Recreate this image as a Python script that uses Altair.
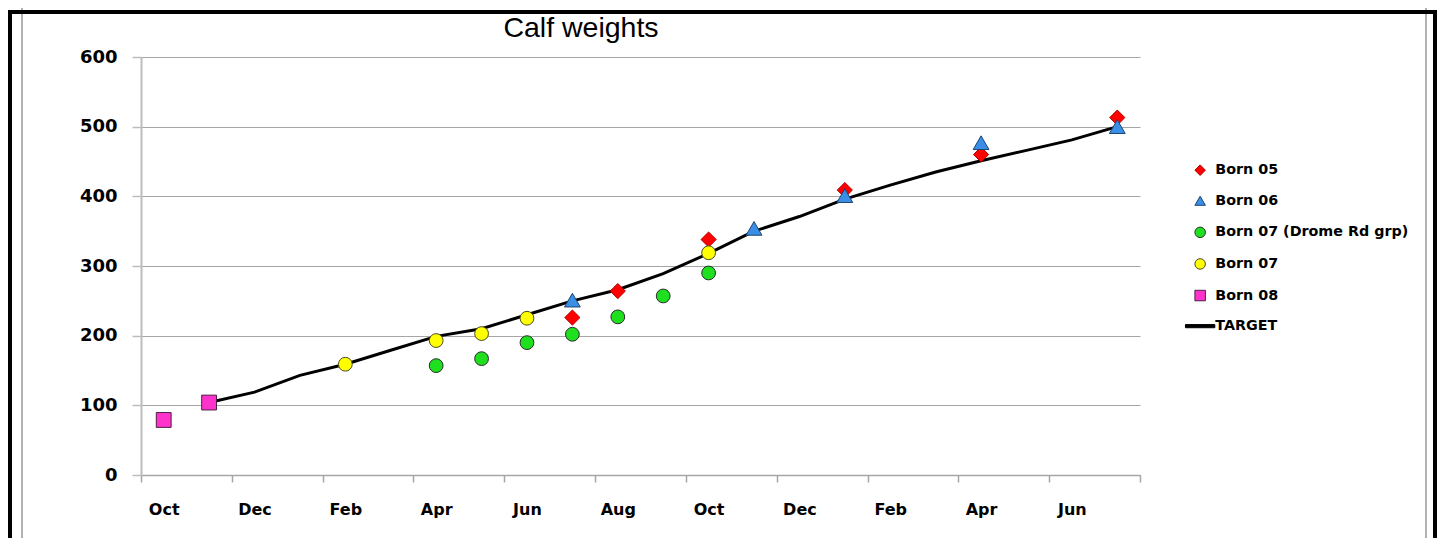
import altair as alt
import pandas as pd

# ---- data -------------------------------------------------------------
months = ["Oct", "Nov", "Dec", "Jan", "Feb", "Mar", "Apr", "May", "Jun", "Jul", "Aug", "Sep",
          "Oct", "Nov", "Dec", "Jan", "Feb", "Mar", "Apr", "May", "Jun", "Jul"]
N = None
born05       = [N, N, N, N, N, N, N, N, N, 226, 264, N, 338, N, N, 409, N, N, 460, N, N, 513]
born06       = [N, N, N, N, N, N, N, N, N, 251, N, N, N, 354, N, 401, N, N, 477, N, N, 500]
born07_drome = [N, N, N, N, N, N, 157, 167, 190, 202, 227, 257, 290, N, N, N, N, N, N, N, N, N]
born07       = [N, N, N, N, 159, N, 193, 203, 225, N, N, N, 319, N, N, N, N, N, N, N, N, N]
born08       = [79, 104, N, N, N, N, N, N, N, N, N, N, N, N, N, N, N, N, N, N, N, N]
target       = [N, 104, 119, 143, 159, 179, 199, 210, 230, 250, 266, 289, 318, 350, 371, 396,
                416, 435, 451, 466, 481, 500]

series_names = ["Born 05", "Born 06", "Born 07 (Drome Rd grp)", "Born 07", "Born 08", "TARGET"]
y_ticks = [0, 100, 200, 300, 400, 500, 600]
chart_title = "Calf weights"

# ---- styles ------------------------------------------------------------
fills = ["#ff0000", "#3a8ee6", "#1fe01f", "#ffff00", "#ff33cc", "#000000"]
strokes = ["#b00000", "#1d4470", "#2a2a2a", "#4a4a20", "#4a2040", "#000000"]
shapes = ["diamond", "triangle-up", "circle", "circle", "square", "M-2.8,-0.3H2.8V0.3H-2.8Z"]
marker_sizes = [230, 250, 190, 190, 220]

rows = []
for name, vals, ms in zip(series_names[:5], [born05, born06, born07_drome, born07, born08], marker_sizes):
    for i, v in enumerate(vals):
        if v is not None:
            rows.append({"series": name, "month": i + 0.5, "weight": v, "msize": ms})
points_df = pd.DataFrame(rows)
target_df = pd.DataFrame([{"month": i + 0.5, "weight": v} for i, v in enumerate(target) if v is not None])

n_months = len(months)
tick_vals = list(range(0, n_months + 1, 2))
tick_labels = [months[i] if i < n_months else "" for i in tick_vals]
label_expr = "[" + ",".join("'%s'" % t for t in tick_labels) + "][datum.value / 2]"

W, H = 999, 418
PAD_L, PAD_T = 133, 49
TOTAL_W, TOTAL_H = 1429, 530

x_enc = alt.X("month:Q",
              scale=alt.Scale(domain=[0, n_months], nice=False, zero=False),
              axis=alt.Axis(values=tick_vals, labelExpr=label_expr, labelOffset=W / n_months / 2,
                            tickSize=7, tickColor="#a6a6a6", tickWidth=1.5,
                            domainColor="#a6a6a6", domainWidth=1.5, grid=False,
                            labelFont="DejaVu Sans", labelFontSize=16, labelFontWeight="bold",
                            labelColor="black", labelPadding=19, labelFlush=False,
                            labelOverlap=False, labelBound=False, title=None))
y_enc = alt.Y("weight:Q",
              scale=alt.Scale(domain=[0, 600], nice=False),
              axis=alt.Axis(values=y_ticks, tickSize=9, tickColor="#bdbdbd", tickWidth=1.5,
                            domainColor="#bdbdbd", domainWidth=2, grid=True,
                            gridColor="#a6a6a6", gridWidth=1,
                            labelFont="DejaVu Sans", labelFontSize=18, labelFontWeight="bold",
                            labelColor="black", labelPadding=15, format="d", title=None))

legend = alt.Legend(orient="none", legendX=1052, legendY=106, title=None, padding=0,
                    labelFont="DejaVu Sans", labelFontSize=14.3, labelFontWeight="bold",
                    labelColor="black", labelLimit=400, symbolSize=110, rowPadding=15.6,
                    labelOffset=8, symbolStrokeWidth=1)

line = alt.Chart(target_df).mark_line(color="black", strokeWidth=3).encode(x=x_enc, y=y_enc)

pts = alt.Chart(points_df).mark_point(filled=True, opacity=1, strokeWidth=1).encode(
    x=x_enc, y=y_enc,
    fill=alt.Fill("series:N", scale=alt.Scale(domain=series_names, range=fills), legend=legend),
    stroke=alt.Stroke("series:N", scale=alt.Scale(domain=series_names, range=strokes), legend=legend),
    shape=alt.Shape("series:N", scale=alt.Scale(domain=series_names, range=shapes), legend=legend),
    size=alt.Size("msize:Q", scale=None),
)

one = alt.Data(values=[{"t": chart_title}])
def rule(color, width, **enc):
    return alt.Chart(one).mark_rule(color=color, strokeWidth=width).encode(**enc)

title = alt.Chart(one).mark_text(font="Liberation Sans", fontSize=28.5, color="black",
                                 align="center", baseline="alphabetic").encode(
    text="t:N", x=alt.value(440), y=alt.value(-20))

frame = [
    rule("#999999", 1.5, x=alt.value(-119), y=alt.value(-PAD_T), y2=alt.value(TOTAL_H - PAD_T)),
    rule("#999999", 1.5, x=alt.value(1285), y=alt.value(-PAD_T), y2=alt.value(TOTAL_H - PAD_T)),
    rule("black", 4, x=alt.value(-PAD_L), x2=alt.value(TOTAL_W - PAD_L), y=alt.value(-45)),
    rule("black", 4, x=alt.value(-PAD_L + 2), y=alt.value(-47), y2=alt.value(TOTAL_H - PAD_T)),
    rule("black", 4, x=alt.value(TOTAL_W - PAD_L - 2), y=alt.value(-47), y2=alt.value(TOTAL_H - PAD_T)),
]

chart = alt.layer(line, pts, title, *frame).properties(
    width=W, height=H,
    autosize=alt.AutoSizeParams(type="none"),
    padding={"left": PAD_L, "top": PAD_T, "right": TOTAL_W - PAD_L - W, "bottom": TOTAL_H - PAD_T - H},
    background="white",
).configure_view(stroke=None)

chart.save("out.html", embed_options={"renderer": "svg", "actions": False})
